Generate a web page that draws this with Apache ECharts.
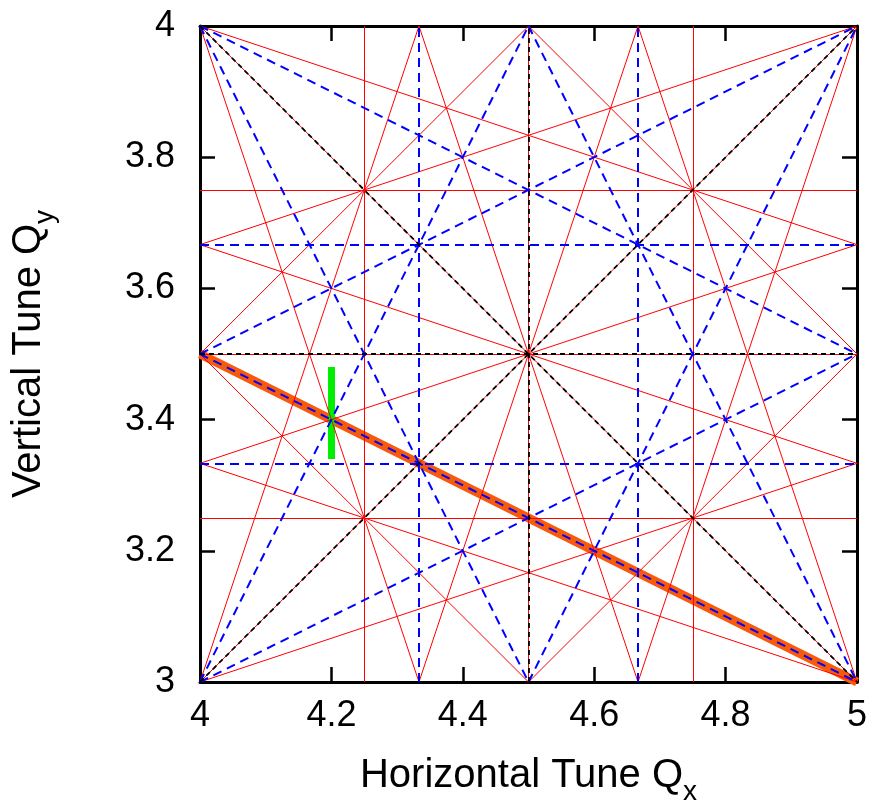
<!DOCTYPE html>
<html>
<head>
<meta charset="utf-8">
<script src="https://cdn.jsdelivr.net/npm/echarts@6/dist/echarts.min.js"></script>
<style>
  html, body { margin: 0; padding: 0; background: #fff; }
  #chart { width: 876px; height: 804px; }
</style>
</head>
<body>
<div id="chart"></div>
<script>
// Axis ranges and tick labels
const xRange = [4, 5];
const yRange = [3, 4];
const xTickLabels = ['4', '4.2', '4.4', '4.6', '4.8', '5'];
const yTickLabels = ['3', '3.2', '3.4', '3.6', '3.8', '4'];

// Resonance lines, each [Qx1, Qy1, Qx2, Qy2]
// 2nd order (black dashed)
const order2Lines = [
  [4.5, 3, 4.5, 4],
  [4, 3.5, 5, 3.5],
  [4, 4, 5, 3],
  [4, 3, 5, 4]
];
// 3rd order (blue dashed)
const order3Lines = [
  [4.3333, 3, 4.3333, 4],
  [4.6667, 3, 4.6667, 4],
  [4, 3.3333, 5, 3.3333],
  [4, 3.6667, 5, 3.6667],
  [4, 4, 4.5, 3],
  [4.5, 4, 5, 3],
  [4, 3, 4.5, 4],
  [4.5, 3, 5, 4],
  [4, 3.5, 5, 3],
  [4, 4, 5, 3.5],
  [4, 3.5, 5, 4],
  [4, 3, 5, 3.5]
];
// 4th order (red solid)
const order4Lines = [
  [4.25, 3, 4.25, 4],
  [4.5, 3, 4.5, 4],
  [4.75, 3, 4.75, 4],
  [4, 3.25, 5, 3.25],
  [4, 3.5, 5, 3.5],
  [4, 3.75, 5, 3.75],
  [4, 4, 4.3333, 3],
  [4.3333, 4, 4.6667, 3],
  [4.6667, 4, 5, 3],
  [4, 3, 4.3333, 4],
  [4.3333, 3, 4.6667, 4],
  [4.6667, 3, 5, 4],
  [4, 3.3333, 5, 3],
  [4, 3.6667, 5, 3.3333],
  [4, 4, 5, 3.6667],
  [4, 3.6667, 5, 4],
  [4, 3.3333, 5, 3.6667],
  [4, 3, 5, 3.3333],
  [4, 3.5, 4.5, 3],
  [4, 4, 5, 3],
  [4.5, 4, 5, 3.5],
  [4, 3.5, 4.5, 4],
  [4, 3, 5, 4],
  [4.5, 3, 5, 3.5]
];
// Highlighted resonance (Qx + 2Qy = 11)
const highlightLine = [[4, 3.5, 5, 3]];
// Tune scan (green bar)
const tuneScan = [[4.2, 3.34, 4.2, 3.48]];

function toLinesData(arr) {
  return arr.map(function (s) { return { coords: [[s[0], s[1]], [s[2], s[3]]] }; });
}

const FONT = 'Liberation Sans, Arial, Helvetica, sans-serif';

function linesSeries(arr, style) {
  return {
    type: 'lines',
    coordinateSystem: 'cartesian2d',
    silent: true,
    polyline: false,
    effect: { show: false },
    lineStyle: style,
    data: toLinesData(arr)
  };
}

const axisCommonX = {
  type: 'value', min: xRange[0], max: xRange[1], interval: 0.2,
  splitLine: { show: false },
  axisLine: { show: true, onZero: false, lineStyle: { color: '#000', width: 3 } },
  axisTick: { show: true, inside: true, length: 15, lineStyle: { color: '#000', width: 2.5 } }
};
const axisCommonY = {
  type: 'value', min: yRange[0], max: yRange[1], interval: 0.2,
  splitLine: { show: false },
  axisLine: { show: true, onZero: false, lineStyle: { color: '#000', width: 3 } },
  axisTick: { show: true, inside: true, length: 15, lineStyle: { color: '#000', width: 2.5 } }
};

const nameRich = {
  m: { fontSize: 40, fontFamily: FONT, color: '#000', verticalAlign: 'bottom', padding: [0, 0, 10, 0] },
  s: { fontSize: 28, fontFamily: FONT, color: '#000', verticalAlign: 'bottom' }
};

const chart = echarts.init(document.getElementById('chart'), null, { renderer: 'canvas' });
chart.setOption({
  animation: false,
  backgroundColor: '#fff',
  grid: { left: 200, right: 19, top: 26, bottom: 122, containLabel: false, outerBoundsMode: 'none' },
  xAxis: [
    Object.assign({}, axisCommonX, {
      position: 'bottom',
      name: '{m|Horizontal Tune Q}{s|x}',
      nameLocation: 'middle',
      nameGap: 74,
      nameTextStyle: { rich: nameRich },
      axisLabel: {
        show: true, margin: 16, fontSize: 36, fontFamily: FONT, color: '#000',
        formatter: function (v) { return xTickLabels[Math.round((v - xRange[0]) / 0.2)]; }
      }
    }),
    Object.assign({}, axisCommonX, { position: 'top', axisLabel: { show: false } })
  ],
  yAxis: [
    Object.assign({}, axisCommonY, {
      position: 'left',
      name: '{m|Vertical Tune Q}{s|y}',
      nameLocation: 'middle',
      nameGap: 141,
      nameRotate: 90,
      nameTextStyle: { rich: nameRich },
      axisLabel: {
        show: true, margin: 25, fontSize: 36, fontFamily: FONT, color: '#000',
        formatter: function (v) { return yTickLabels[Math.round((v - yRange[0]) / 0.2)]; }
      }
    }),
    Object.assign({}, axisCommonY, { position: 'right', axisLabel: { show: false } })
  ],
  series: [
    linesSeries(highlightLine, { color: '#f85a0c', width: 9, opacity: 1, cap: 'butt' }),
    linesSeries(tuneScan, { color: '#00ee00', width: 7, opacity: 1, cap: 'butt' }),
    linesSeries(order4Lines, { color: '#ff0000', width: 1, opacity: 1 }),
    linesSeries(order3Lines, { color: '#0000ff', width: 2, opacity: 1, type: [9, 6] }),
    linesSeries(order2Lines, { color: '#000000', width: 1.8, opacity: 1, type: [5, 4] })
  ]
});
</script>
</body>
</html>
